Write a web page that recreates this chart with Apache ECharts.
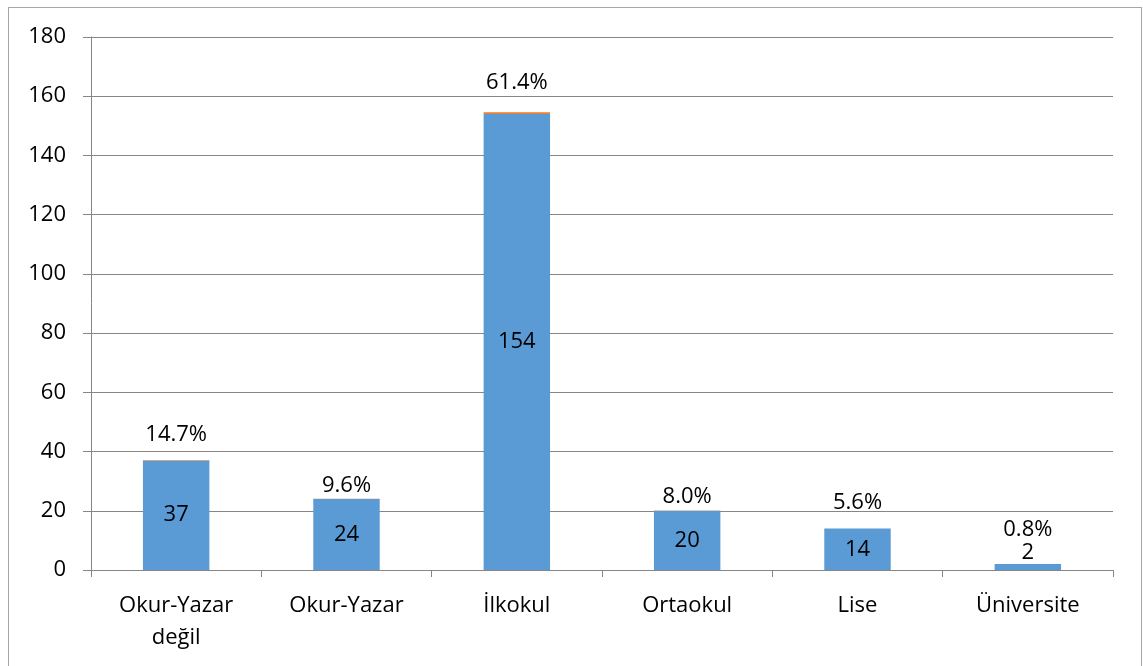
<!DOCTYPE html>
<html>
<head>
<meta charset="utf-8">
<script src="https://cdn.jsdelivr.net/npm/echarts@6/dist/echarts.min.js"></script>
<style>
  html, body { margin: 0; padding: 0; background: #fff; }
  #chart { width: 1143px; height: 666px; }
  .frame { position: absolute; left: 8px; top: 7px; width: 1134px; height: 670px; border: 1px solid #a6a6a6; box-sizing: border-box; pointer-events: none; }
</style>
</head>
<body>
<div id="chart"></div>
<div class="frame"></div>
<script>
const categories = ['Okur-Yazar\ndeğil', 'Okur-Yazar', 'İlkokul', 'Ortaokul', 'Lise', 'Üniversite']
const counts = [37, 24, 154, 20, 14, 2]
const percents = [14.7, 9.6, 61.4, 8.0, 5.6, 0.8]
const yTicks = [0, 20, 40, 60, 80, 100, 120, 140, 160, 180]

const font = '"Open Sans", sans-serif'
const fontSize = 22
const chart = echarts.init(document.getElementById('chart'))

// gap between bar top and percent label, as placed in the original
const pctGap = [14, 2, 18, 3, 15, 23]

const countData = counts.map(v => {
  if (v < 8) {
    return { value: v, label: { position: 'top', distance: 0 } }
  }
  return v
})
const pctData = percents.map((p, i) => ({ value: p / 100, label: { distance: pctGap[i] } }))

chart.setOption({
  animation: false,
  textStyle: { fontFamily: font },
  grid: { left: 91, right: 30, top: 37, bottom: 96 },
  xAxis: {
    type: 'category',
    data: categories,
    axisLine: { show: true, lineStyle: { color: '#868686' } },
    axisTick: { show: true, length: 7, lineStyle: { color: '#868686' } },
    axisLabel: { color: '#000', fontSize: fontSize, margin: 20, lineHeight: 32, fontFamily: font }
  },
  yAxis: {
    type: 'value',
    min: yTicks[0],
    max: yTicks[yTicks.length - 1],
    interval: 20,
    axisLine: { show: true, lineStyle: { color: '#868686' } },
    axisTick: { show: true, length: 8, lineStyle: { color: '#868686' } },
    axisLabel: { color: '#000', fontSize: fontSize, margin: 25, fontFamily: font },
    splitLine: { lineStyle: { color: '#868686', width: 1 } }
  },
  series: [
    {
      name: 'Sayı',
      type: 'bar',
      stack: 'a',
      barWidth: '39%',
      data: countData,
      itemStyle: { color: '#5b9bd5' },
      label: { show: true, position: 'inside', color: '#000', fontSize: fontSize, fontFamily: font }
    },
    {
      name: 'Yüzde',
      type: 'bar',
      stack: 'a',
      data: pctData,
      itemStyle: { color: '#ed7d31' },
      label: {
        show: true,
        position: 'top',
        color: '#000',
        fontSize: fontSize,
        fontFamily: font,
        formatter: p => percents[p.dataIndex].toFixed(1) + '%'
      }
    }
  ]
})
</script>
</body>
</html>
